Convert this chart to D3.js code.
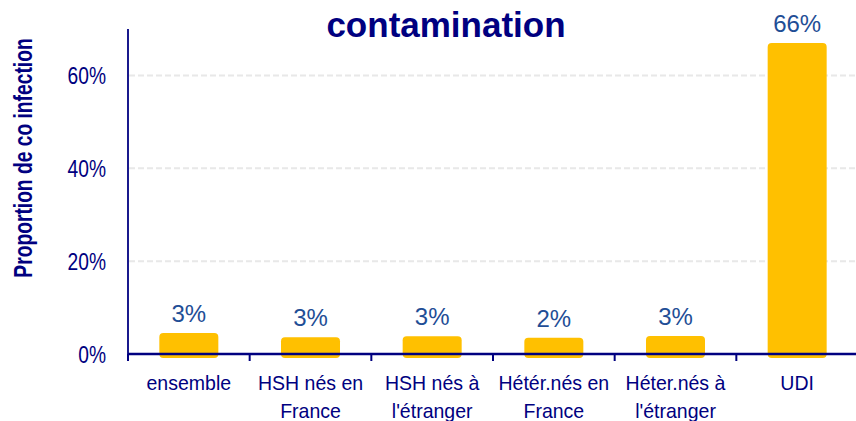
<!DOCTYPE html>
<html>
<head>
<meta charset="utf-8">
<script src="https://cdn.jsdelivr.net/npm/d3@7"></script>
<style>
  body { margin: 0; background: #fff; }
  svg { display: block; font-family: "Liberation Sans", Arial, sans-serif; }
</style>
</head>
<body>
<svg id="chart" width="856" height="421"></svg>
<script>
// data
const categoryLines = [
    ["ensemble"],
    ["HSH nés en", "France"],
    ["HSH nés à", "l'étranger"],
    ["Hétér.nés en", "France"],
    ["Héter.nés à", "l'étranger"],
    ["UDI"]
];
const categories = categoryLines.map((l) => l.join(" "));
const values = [4.5, 3.6, 3.8, 3.5, 3.9, 67.0];
const valueLabels = ["3%", "3%", "3%", "2%", "3%", "66%"];
const yTicks = [0, 20, 40, 60];

const navy = "#000080";
const labelBlue = "#1f4e96";
const gold = "#ffc000";

const svg = d3.select("#chart");
const margin = { top: 29, left: 128, bottom: 354 };

const x = d3.scaleBand().domain(categories).range([128, 858]).paddingInner(0).paddingOuter(0);
const y = d3.scaleLinear().domain([0, 70]).range([354, 29]);
const barW = 59;

// grid lines
svg.append("g")
    .selectAll("line")
    .data(yTicks.filter((d) => d > 0))
    .enter()
    .append("line")
    .attr("x1", 129)
    .attr("x2", 856)
    .attr("y1", (d) => y(d))
    .attr("y2", (d) => y(d))
    .style("stroke", "#e8e8e8")
    .style("stroke-width", 2)
    .style("stroke-dasharray", "6,3");

// bars
svg.append("g")
    .selectAll("rect")
    .data(values)
    .enter()
    .append("rect")
    .attr("x", (d, i) => x(categories[i]) + (x.bandwidth() - barW) / 2)
    .attr("y", (d) => y(d))
    .attr("width", barW)
    .attr("height", (d) => y(0) - y(d) + 4)
    .attr("rx", 4)
    .style("fill", gold);

// value labels
svg.append("g")
    .selectAll("text")
    .data(values)
    .enter()
    .append("text")
    .attr("x", (d, i) => x(categories[i]) + x.bandwidth() / 2)
    .attr("y", (d) => y(d) - 11)
    .attr("text-anchor", "middle")
    .style("font-size", "24px")
    .style("fill", labelBlue)
    .text((d, i) => valueLabels[i]);

// x axis
const xAxis = svg.append("g").attr("transform", `translate(0,${y(0)})`);
xAxis.append("line")
    .attr("x1", 128).attr("x2", 856)
    .style("stroke", navy).style("stroke-width", 2.5);
xAxis.selectAll("line.tick")
    .data(categories)
    .enter()
    .append("line")
    .attr("class", "tick")
    .attr("x1", (d) => x(d)).attr("x2", (d) => x(d))
    .attr("y1", 0).attr("y2", 7)
    .style("stroke", navy).style("stroke-width", 2);

const catText = svg.append("g")
    .selectAll("g")
    .data(categoryLines)
    .enter()
    .append("g")
    .attr("transform", (d, i) => `translate(${x(categories[i]) + x.bandwidth() / 2},390) scale(0.93,1)`);
catText.selectAll("text")
    .data((d) => d)
    .enter()
    .append("text")
    .attr("y", (d, j) => j * 28)
    .attr("text-anchor", "middle")
    .style("font-size", "21px")
    .style("fill", navy)
    .text((d) => d);

// y axis
svg.append("line")
    .attr("x1", 128).attr("x2", 128)
    .attr("y1", 29).attr("y2", 361)
    .style("stroke", navy).style("stroke-width", 1.8);

svg.append("g")
    .selectAll("text")
    .data(yTicks)
    .enter()
    .append("text")
    .attr("transform", (d) => `translate(106,${y(d) + 8.5}) scale(0.8,1)`)
    .attr("text-anchor", "end")
    .style("font-size", "24px")
    .style("fill", navy)
    .text((d) => d + "%");

// y title
svg.append("text")
    .attr("transform", "translate(32,158) rotate(-90) scale(0.74,1)")
    .attr("text-anchor", "middle")
    .style("font-size", "26px")
    .style("font-weight", "bold")
    .style("fill", navy)
    .text("Proportion de co infection");

// title (first line is cut off above the picture)
svg.append("text")
    .attr("x", 446)
    .attr("y", 37)
    .attr("text-anchor", "middle")
    .style("font-size", "35px")
    .style("font-weight", "bold")
    .style("fill", navy)
    .text("contamination");
</script>
</body>
</html>
